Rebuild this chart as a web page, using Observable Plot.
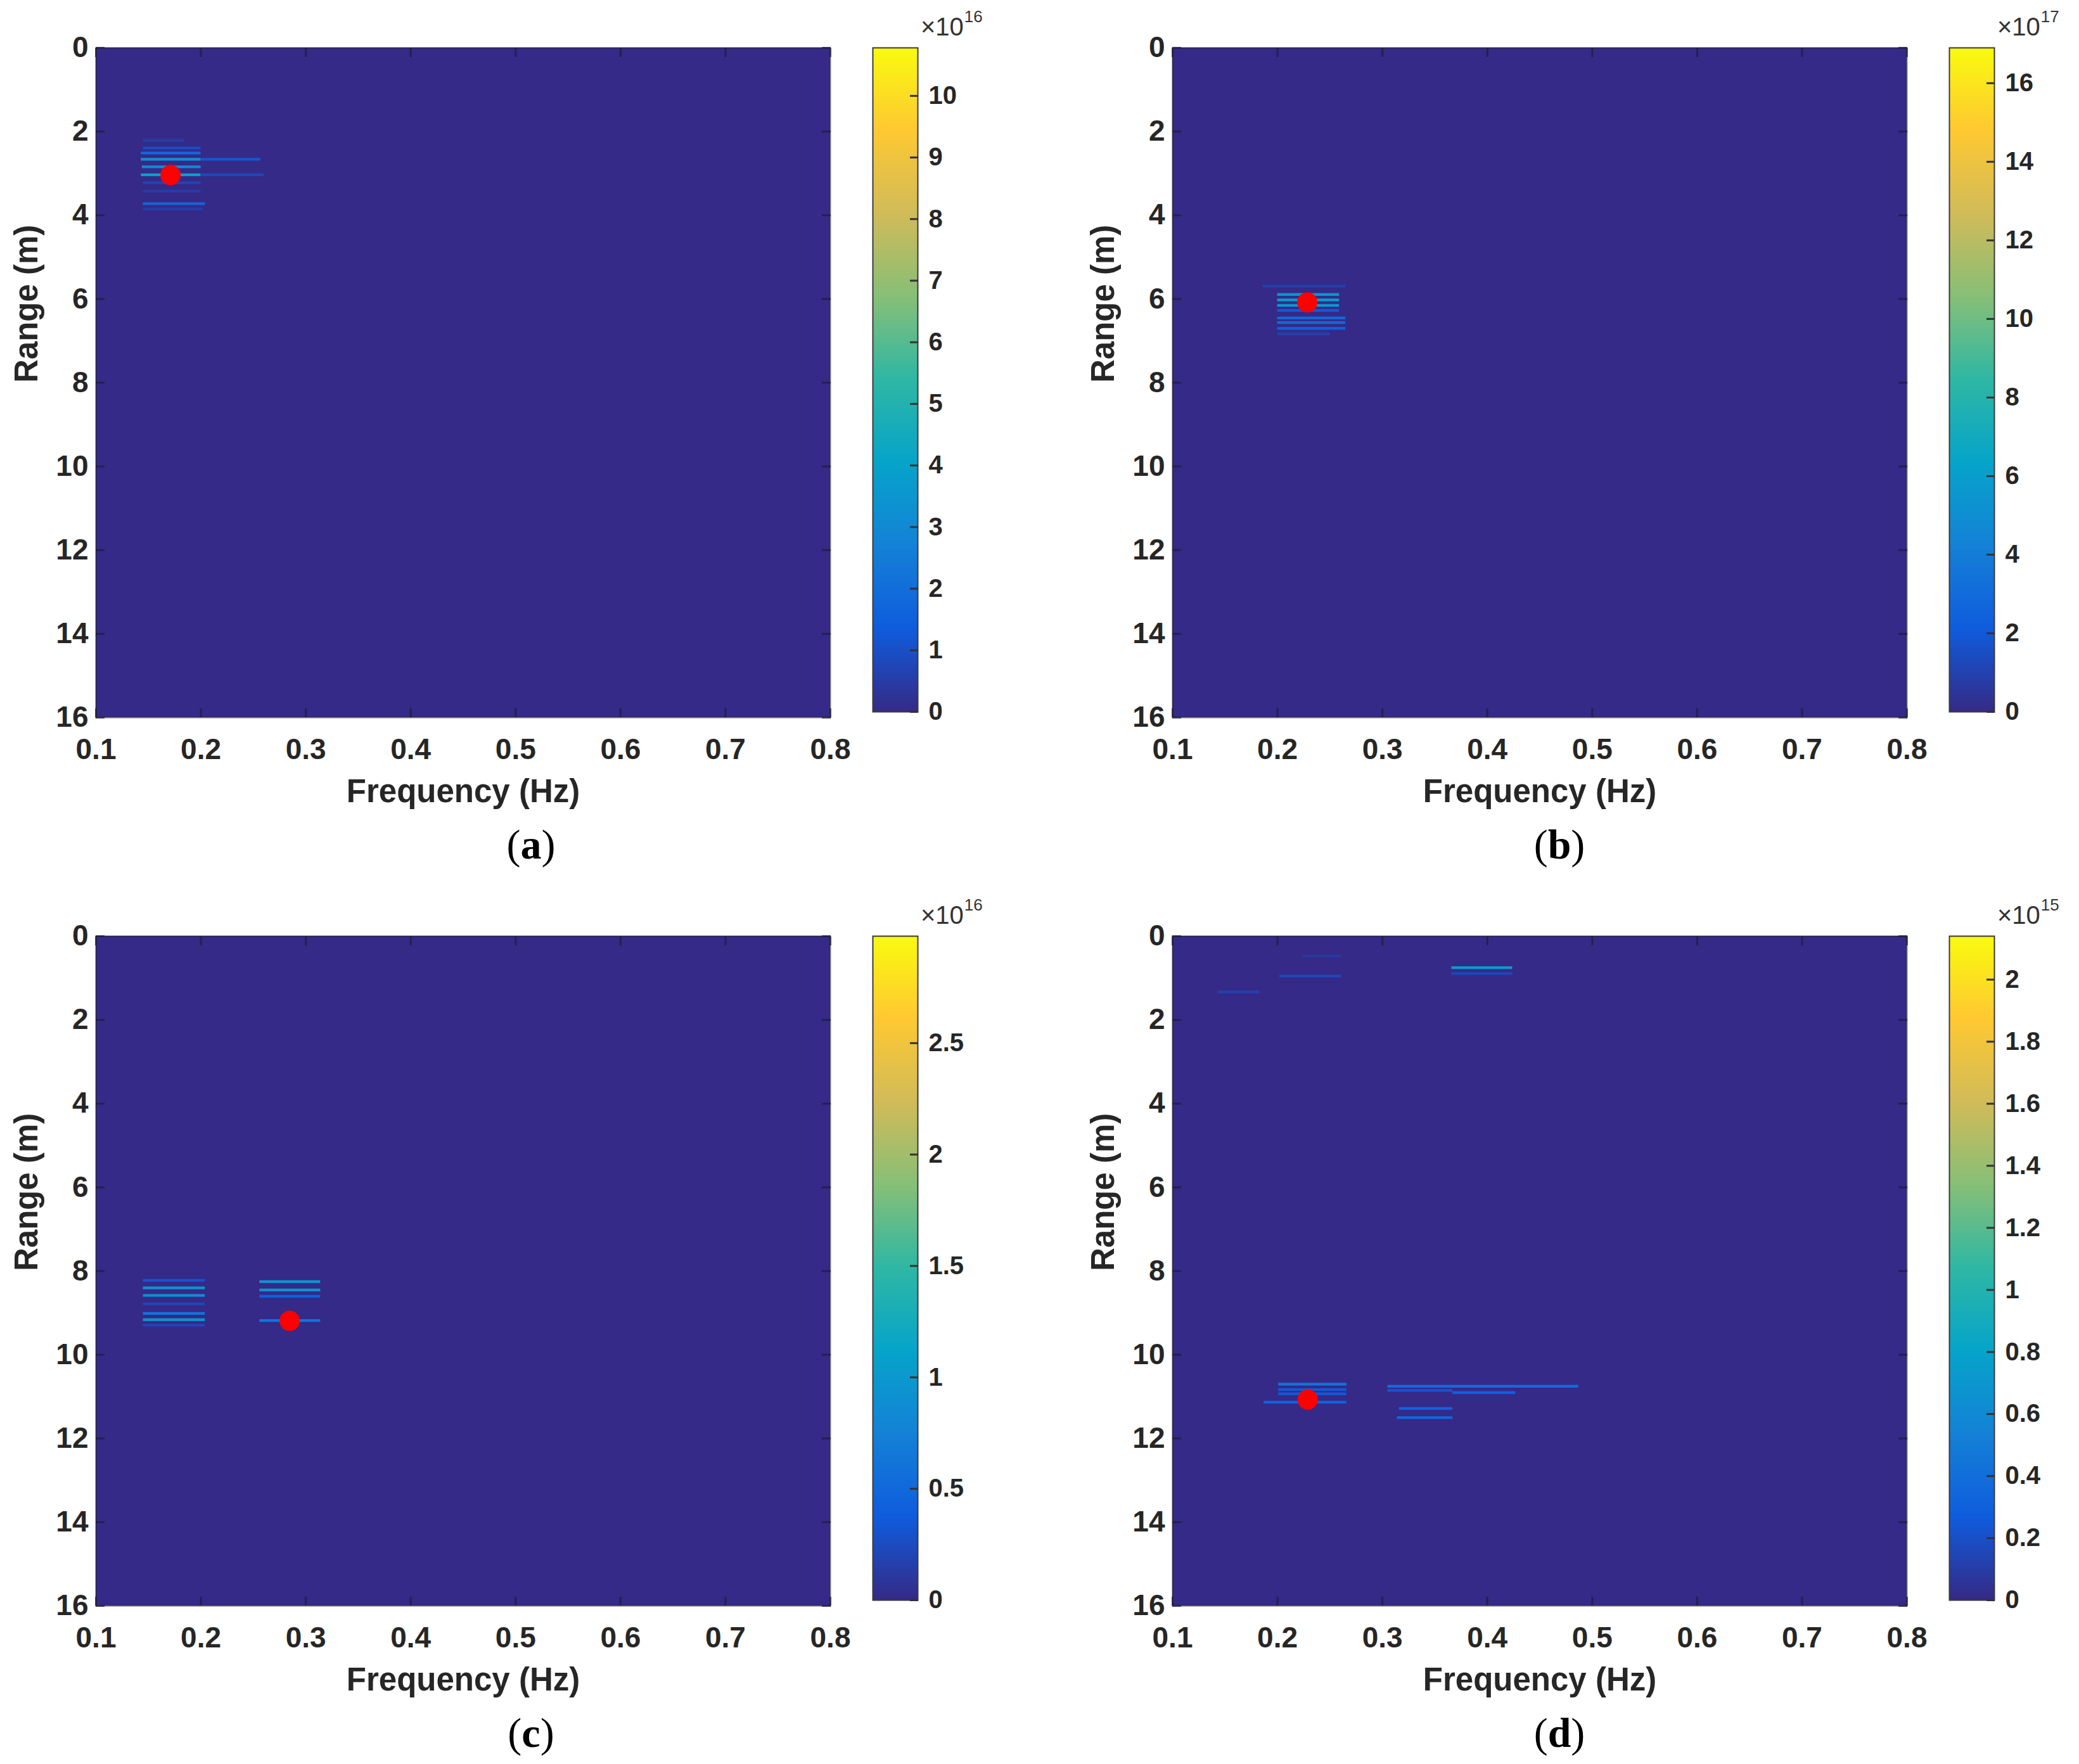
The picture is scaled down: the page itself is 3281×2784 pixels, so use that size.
<!DOCTYPE html>
<html>
<head>
<meta charset="utf-8">
<script src="https://cdn.jsdelivr.net/npm/d3@7"></script>
<script src="https://cdn.jsdelivr.net/npm/@observablehq/plot@0.6"></script>
<style>
  html, body { margin: 0; padding: 0; background: #fff; }
  #root { position: relative; width: 3281px; height: 2784px; overflow: hidden; background: #fff; }
  .panel { position: absolute; width: 1650px; height: 1400px; }
  .panel svg { position: absolute; overflow: visible; }
  .exp { position: absolute; font-family: "Liberation Sans", Arial, sans-serif; font-size: 40px; color: #333; line-height: 1; white-space: nowrap; }
  .exp sup { font-size: 26px; vertical-align: baseline; position: relative; top: -21px; margin-left: 1px; }
  .tag { position: absolute; font-family: "Liberation Serif", "Times New Roman", serif; font-size: 66px; color: #000; line-height: 1; transform: translate(-50%, -50%); white-space: nowrap; }
</style>
</head>
<body>
<div id="root"></div>
<script>
// ---------- data ----------
const frequencyDomain = [0.1, 0.8];
const rangeDomain = [0, 16];
const xTicks = [0.1, 0.2, 0.3, 0.4, 0.5, 0.6, 0.7, 0.8];
const yTicks = [0, 2, 4, 6, 8, 10, 12, 14, 16];
const xLabel = "Frequency (Hz)";
const yLabel = "Range (m)";
const panelTags = ["a", "b", "c", "d"];

// colour bar maxima (in units of 10^exponent) and exponents
const colorMax = [10.78, 16.9, 2.98, 2.14];
const colorExponent = [16, 17, 16, 15];
const colorTicksA = [0, 1, 2, 3, 4, 5, 6, 7, 8, 9, 10];
const colorTicksB = [0, 2, 4, 6, 8, 10, 12, 14, 16];
const colorTicksC = [0, 0.5, 1, 1.5, 2, 2.5];
const colorTicksD = [0, 0.2, 0.4, 0.6, 0.8, 1, 1.2, 1.4, 1.6, 1.8, 2];

// detected peak (red marker) per panel
const peakFrequency = [0.171, 0.2284, 0.2846, 0.2288];
const peakRange = [3.04, 6.08, 9.19, 11.07];

// non-zero range-bin segments: [freq start, freq end, range (m), value]
const segmentsA = [
  [0.145, 0.184, 2.22, 0.5],
  [0.145, 0.200, 2.40, 0.9],
  [0.143, 0.200, 2.52, 1.8],
  [0.143, 0.200, 2.67, 3.3],
  [0.200, 0.257, 2.67, 1.2],
  [0.144, 0.200, 2.85, 3.0],
  [0.143, 0.200, 3.04, 3.8],
  [0.200, 0.260, 3.04, 0.8],
  [0.145, 0.200, 3.23, 0.7],
  [0.145, 0.200, 3.43, 0.5],
  [0.145, 0.204, 3.73, 1.7],
  [0.145, 0.202, 3.86, 0.5]
];
const segmentsB = [
  [0.186, 0.265, 5.70, 0.9],
  [0.200, 0.259, 5.90, 5.5],
  [0.200, 0.259, 6.03, 6.0],
  [0.200, 0.259, 6.16, 5.5],
  [0.200, 0.259, 6.28, 2.0],
  [0.200, 0.265, 6.46, 2.8],
  [0.200, 0.265, 6.57, 2.8],
  [0.200, 0.265, 6.71, 2.2],
  [0.200, 0.250, 6.84, 0.9]
];
const segmentsC = [
  [0.145, 0.204, 8.23, 0.30],
  [0.145, 0.204, 8.41, 0.95],
  [0.145, 0.204, 8.59, 0.85],
  [0.145, 0.204, 8.79, 0.20],
  [0.145, 0.204, 9.02, 0.60],
  [0.145, 0.204, 9.17, 0.95],
  [0.145, 0.204, 9.30, 0.20],
  [0.256, 0.314, 8.26, 0.95],
  [0.256, 0.314, 8.46, 0.95],
  [0.256, 0.314, 8.61, 0.40],
  [0.256, 0.314, 9.19, 0.60]
];
const segmentsD = [
  [0.366, 0.424, 0.76, 0.75],
  [0.366, 0.424, 0.90, 0.15],
  [0.224, 0.261, 0.48, 0.08],
  [0.202, 0.261, 0.96, 0.15],
  [0.143, 0.183, 1.34, 0.12],
  [0.201, 0.266, 10.71, 0.45],
  [0.201, 0.266, 10.84, 0.25],
  [0.201, 0.266, 10.94, 0.25],
  [0.187, 0.266, 11.14, 0.30],
  [0.305, 0.487, 10.76, 0.38],
  [0.305, 0.367, 10.86, 0.22],
  [0.367, 0.427, 10.91, 0.30],
  [0.316, 0.367, 11.29, 0.30],
  [0.314, 0.367, 11.51, 0.35]
];

// ---------- style ----------
const parulaStops = ["#352a87", "#0f5cdd", "#1481d6", "#06a4ca", "#2eb7a4", "#87bf77", "#d1bb59", "#fec832", "#f9fb0e"];
const parula = d3.piecewise(d3.interpolateRgb, parulaStops);
const FONT = '"Liberation Sans", Arial, Helvetica, sans-serif';
const binHalf = 0.0325;

const segmentSets = [segmentsA, segmentsB, segmentsC, segmentsD];
const colorTickSets = [colorTicksA, colorTicksB, colorTicksC, colorTicksD];
const panelOffsets = [[0, 0], [1699, 0], [0, 1402], [1699, 1402]];
const tagX = [838, 762, 838, 762];

const root = document.getElementById("root");

panelTags.forEach((tag, i) => {
  const [ox, oy] = panelOffsets[i];
  const panel = document.createElement("div");
  panel.className = "panel";
  panel.style.left = ox + "px";
  panel.style.top = oy + "px";
  root.appendChild(panel);

  const colorScale = {type: "linear", domain: [0, colorMax[i]], interpolate: parula};
  const background = [{f1: frequencyDomain[0], f2: frequencyDomain[1], r1: rangeDomain[0], r2: rangeDomain[1], v: 0}];
  const segs = segmentSets[i].map(([f1, f2, r, v]) => ({f1, f2, r, v}));
  const peak = [{f: peakFrequency[i], r: peakRange[i]}];

  const tickStyle = {stroke: "#1c1c3a", strokeOpacity: 0.7, strokeWidth: 3, tickFormat: () => "", label: null};

  const main = Plot.plot({
    width: 1330, height: 1300,
    marginLeft: 151, marginRight: 20, marginTop: 75, marginBottom: 168,
    style: {fontFamily: FONT, background: "transparent", color: "#262626", overflow: "visible"},
    x: {domain: frequencyDomain, axis: null, label: null},
    y: {domain: rangeDomain, reverse: true, axis: null, label: null},
    color: colorScale,
    marks: [
      Plot.rect(background, {x1: "f1", x2: "f2", y1: "r1", y2: "r2", fill: "v"}),
      Plot.rect(segs, {x1: "f1", x2: "f2", y1: d => d.r - binHalf, y2: d => d.r + binHalf, fill: "v"}),
      Plot.dot(peak, {x: "f", y: "r", r: 16, fill: "#ff0000", stroke: "none"}),
      Plot.frame({stroke: "#262626", strokeOpacity: 0.6, strokeWidth: 2}),
      Plot.axisX({anchor: "bottom", ticks: xTicks, tickSize: -14, ...tickStyle}),
      Plot.axisX({anchor: "top", ticks: xTicks, tickSize: -14, ...tickStyle}),
      Plot.axisY({anchor: "left", ticks: yTicks, tickSize: -14, ...tickStyle}),
      Plot.axisY({anchor: "right", ticks: yTicks, tickSize: -14, ...tickStyle}),
      Plot.axisX({anchor: "bottom", ticks: xTicks, tickSize: 0, tickPadding: 33,
        tickFormat: d => d.toFixed(1), fontSize: 46, fontWeight: "bold", fill: "#262626", label: null}),
      Plot.axisY({anchor: "left", ticks: yTicks, tickSize: 0, tickPadding: 12,
        tickFormat: d => String(d), fontSize: 46, fontWeight: "bold", fill: "#262626", label: null}),
      Plot.text([xLabel], {text: d => d, frameAnchor: "bottom", dy: 117, lineAnchor: "middle",
        fontSize: 51, fontWeight: "bold", fill: "#262626"}),
      Plot.text([yLabel], {text: d => d, frameAnchor: "left", dx: -109, rotate: -90, lineAnchor: "middle",
        fontSize: 51, fontWeight: "bold", fill: "#262626"})
    ]
  });
  main.style.left = "0px";
  main.style.top = "0px";
  panel.appendChild(main);

  const cb = Plot.plot({
    width: 221, height: 1153,
    marginLeft: 0, marginRight: 150, marginTop: 75, marginBottom: 30,
    style: {fontFamily: FONT, background: "transparent", color: "#262626", overflow: "visible"},
    x: {domain: [0, 1], axis: null, label: null},
    y: {domain: [0, colorMax[i]], axis: null, label: null},
    color: colorScale,
    marks: [
      Plot.raster({fill: (x, y) => y, x1: 0, x2: 1, y1: 0, y2: colorMax[i], width: 2, height: 600, imageRendering: "auto"}),
      Plot.frame({stroke: "#3a3a3a", strokeWidth: 2}),
      Plot.axisY({anchor: "right", ticks: colorTickSets[i], tickSize: -13, stroke: "#333", strokeWidth: 3,
        tickFormat: () => "", label: null}),
      Plot.axisY({anchor: "right", ticks: colorTickSets[i], tickSize: 0, tickPadding: 17,
        tickFormat: d => String(d), fontSize: 40, fontWeight: "bold", fill: "#262626", label: null})
    ]
  });
  cb.style.left = "1377px";
  cb.style.top = "0px";
  panel.appendChild(cb);

  const exp = document.createElement("div");
  exp.className = "exp";
  exp.style.left = "1453px";
  exp.style.top = "22px";
  exp.innerHTML = "\u00d710<sup>" + colorExponent[i] + "</sup>";
  panel.appendChild(exp);

  const t = document.createElement("div");
  t.className = "tag";
  t.style.left = tagX[i] + "px";
  t.style.top = "1333px";
  t.innerHTML = "(<b>" + tag + "</b>)";
  panel.appendChild(t);
});
</script>
</body>
</html>
